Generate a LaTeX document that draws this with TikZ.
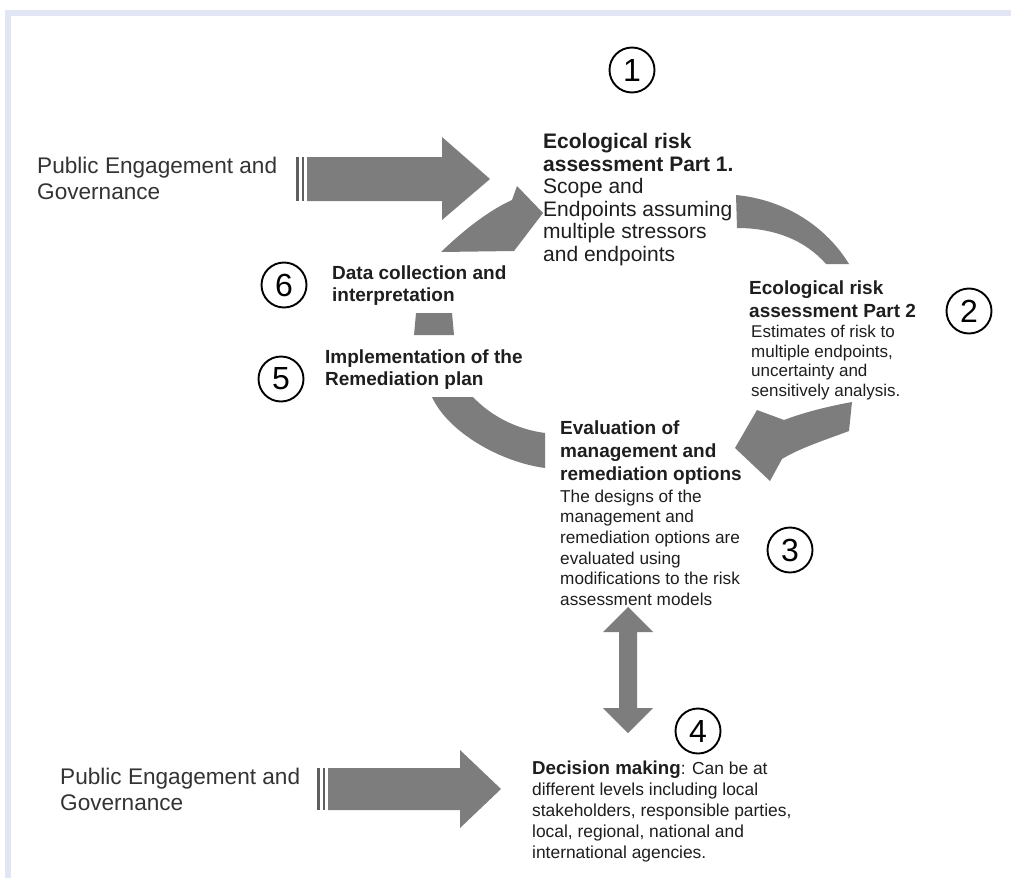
\documentclass[tikz,border=0pt]{standalone}
\usepackage{fontspec}
\setmainfont{Liberation Sans}
\definecolor{framelav}{RGB}{226,229,243}
\definecolor{arrowgray}{RGB}{125,125,125}
\definecolor{bargray}{RGB}{95,95,95}
\definecolor{txtgray}{RGB}{30,30,30}
\tikzset{
  num/.style={draw=black, circle, line width=1.9pt, minimum size=45pt, inner sep=0pt,
              font=\fontsize{32}{32}\selectfont},
  txt/.style={anchor=north west, inner sep=0pt, align=left, text=txtgray},
  pubtxt/.style={txt, font=\fontsize{22.6}{26}\selectfont, text=black!80},
  ttl/.style={txt, font=\fontsize{19}{22.5}\selectfont\bfseries},
  body/.style={txt, font=\fontsize{17.2}{20.6}\selectfont},
  blockarrow/.style={fill=arrowgray, draw=none},
  tailbar/.style={fill=bargray, draw=none},
}
\begin{document}
\begin{tikzpicture}[x=1pt,y=-1pt]
\useasboundingbox (0,0) rectangle (1011,878);
\fill[white] (0,0) rectangle (1011,878);
% frame
\fill[framelav] (5,10) rectangle (1011,16);
\fill[framelav] (5,10) rectangle (11,878);

% circled numbers
\node[num] (n1) at (632,70) {1};
\node[num] (n2) at (969,311) {2};
\node[num] (n3) at (790,550) {3};
\node[num] (n4) at (698,731) {4};
\node[num] (n5) at (281,379) {5};
\node[num] (n6) at (284,285) {6};

% texts
\node[pubtxt] (pe1) at (37,157) {Public Engagement and\\Governance};
\node[pubtxt] (pe2) at (60,768) {Public Engagement and\\Governance};

\node[txt, font=\fontsize{21}{22.6}\selectfont] (era1) at (543,133)
  {\textbf{Ecological risk}\\\textbf{assessment Part 1.}\\Scope and\\Endpoints assuming\\multiple stressors\\and endpoints};

\node[ttl] (era2t) at (749,281) {Ecological risk\\assessment Part 2};
\node[body, font=\fontsize{17}{19.5}\selectfont] (era2b) at (751,325) {Estimates of risk to\\multiple endpoints,\\uncertainty and\\sensitively analysis.};

\node[ttl, font=\fontsize{19}{22}\selectfont\bfseries] (dci) at (332,266) {Data collection and\\interpretation};
\node[ttl, font=\fontsize{19}{21.5}\selectfont\bfseries] (imp) at (325,350) {Implementation of the\\Remediation plan};

\node[ttl, font=\fontsize{19}{23}\selectfont\bfseries] (evt) at (560,421) {Evaluation of\\management and\\remediation options};
\node[body] (evb) at (560,489.7) {The designs of the\\management and\\remediation options are\\evaluated using\\modifications to the risk\\assessment models};

\node[body, font=\fontsize{17.4}{21}\selectfont] (dec) at (532,761)
  {{\fontsize{18.7}{21}\selectfont\bfseries Decision making}: Can be at\\different levels including local\\stakeholders, responsible parties,\\local, regional, national and\\international agencies.};

% straight block arrow (top)
\fill[tailbar] (296,157) rectangle (298.5,201);
\fill[tailbar] (301.5,157) rectangle (304,201);
\fill[blockarrow] (307,157) -- (442,157) -- (442,137) -- (490,179) -- (442,220) -- (442,201) -- (307,201) -- cycle;

% straight block arrow (bottom)
\fill[tailbar] (317,768) rectangle (319.5,810);
\fill[tailbar] (322.5,768) rectangle (325,810);
\fill[blockarrow] (328,768) -- (460,768) -- (460,750) -- (501,789) -- (460,828) -- (460,810) -- (328,810) -- cycle;

% curved arrow from 6 to part 1
\fill[blockarrow] (441,252) .. controls (466,228) and (490,210) .. (512,200)
  -- (517,186) -- (543,213) -- (514,251) -- cycle;

% arc segment part 1 -> part 2
\fill[blockarrow] (736,195) .. controls (787,200) and (827,228) .. (849,264)
  -- (826,264) .. controls (805,240) and (774,228) .. (737,228) -- cycle;

% curved arrow part 2 -> evaluation
\fill[blockarrow] (852,402) -- (849,431)
  .. controls (825,440) and (800,448) .. (782,459)
  -- (770,481) -- (735,448) -- (757,410) -- (784,420)
  .. controls (805,412) and (830,406) .. (852,402) -- cycle;

% arc segment evaluation -> implementation
\fill[blockarrow] (432,397) -- (473,397) .. controls (490,415) and (515,429) .. (545,433)
  -- (545,468) .. controls (500,462) and (448,432) .. (432,397) -- cycle;

% small block between 5 and 6
\fill[blockarrow] (416,313) -- (452,313) -- (454,335) -- (414,335) -- cycle;

% double arrow evaluation <-> decision
\fill[blockarrow] (628,607) -- (653,632) -- (637,632) -- (637,708) -- (653,708)
  -- (628,733) -- (603,708) -- (619,708) -- (619,632) -- (603,632) -- cycle;
\end{tikzpicture}
\end{document}
